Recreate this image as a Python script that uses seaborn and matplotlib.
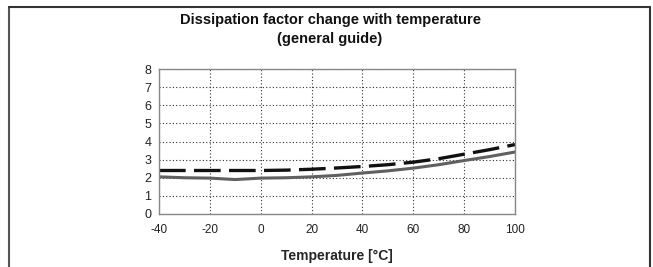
import matplotlib
matplotlib.use("Agg")
import matplotlib.pyplot as plt
import seaborn as sns
import pandas as pd

# values
temperature = [-40, -30, -20, -10, 0, 10, 20, 30, 40, 50, 60, 70, 80, 90, 100]
df_solid = [2.05, 2.0, 1.98, 1.9, 1.98, 2.0, 2.05, 2.13, 2.26, 2.38, 2.53, 2.72, 2.95, 3.17, 3.42]
df_dashed = [2.4, 2.4, 2.4, 2.4, 2.4, 2.42, 2.47, 2.54, 2.62, 2.72, 2.86, 3.05, 3.3, 3.55, 3.83]
x_ticks = [-40, -20, 0, 20, 40, 60, 80, 100]
y_ticks = [0, 1, 2, 3, 4, 5, 6, 7, 8]

df = pd.DataFrame({"temp": temperature, "solid": df_solid, "dashed": df_dashed})

sns.set_style("white")
plt.rcParams["font.family"] = ["Liberation Sans", "DejaVu Sans"]
plt.rcParams["axes.unicode_minus"] = False  # plain hyphen like the original

fig = plt.figure(figsize=(6.53, 2.67), dpi=100)
ax = fig.add_axes([159 / 653, 1 - 214 / 267, (515 - 159) / 653, (214 - 69) / 267])

# outer frame (open at the bottom)
fig.add_artist(plt.Line2D([8.5 / 653, 8.5 / 653], [0, 1 - 6.5 / 267], transform=fig.transFigure, color="#555555", lw=1.5))
fig.add_artist(plt.Line2D([8.5 / 653, 650 / 653], [1 - 6.5 / 267, 1 - 6.5 / 267], transform=fig.transFigure, color="#333333", lw=1.5))
fig.add_artist(plt.Line2D([650 / 653, 650 / 653], [0, 1 - 6.5 / 267], transform=fig.transFigure, color="#333333", lw=1.5))

sns.lineplot(x="temp", y="solid", data=df, ax=ax, color="#606060", lw=2.2)
sns.lineplot(x="temp", y="dashed", data=df, ax=ax, color="#111111", lw=2.4)
ax.lines[-1].set_linestyle((0, (8, 2.5)))

ax.set_xlim(-40, 100)
ax.set_ylim(0, 8)
ax.set_xticks(x_ticks)
ax.set_yticks(y_ticks)
ax.grid(True, color="#333333", ls=(0, (1, 2)), lw=0.8)
for s in ax.spines.values():
    s.set_color("#888888")
    s.set_linewidth(1)
ax.tick_params(axis="both", labelsize=8.5, length=3, color="#666666", direction="inout", colors="#222222")
ax.tick_params(axis="x", pad=6)
ax.tick_params(axis="y", pad=4, labelsize=9)
ax.set_xlabel("Temperature [°C]", fontsize=10, fontweight="bold", labelpad=9)
ax.set_ylabel("")

fig.text(330 / 653, 1 - 13 / 267, "Dissipation factor change with temperature\n(general guide)",
         ha="center", va="top", fontsize=10.5, fontweight="bold", linespacing=1.5, color="#111111")

plt.savefig("out.png", dpi=100)
